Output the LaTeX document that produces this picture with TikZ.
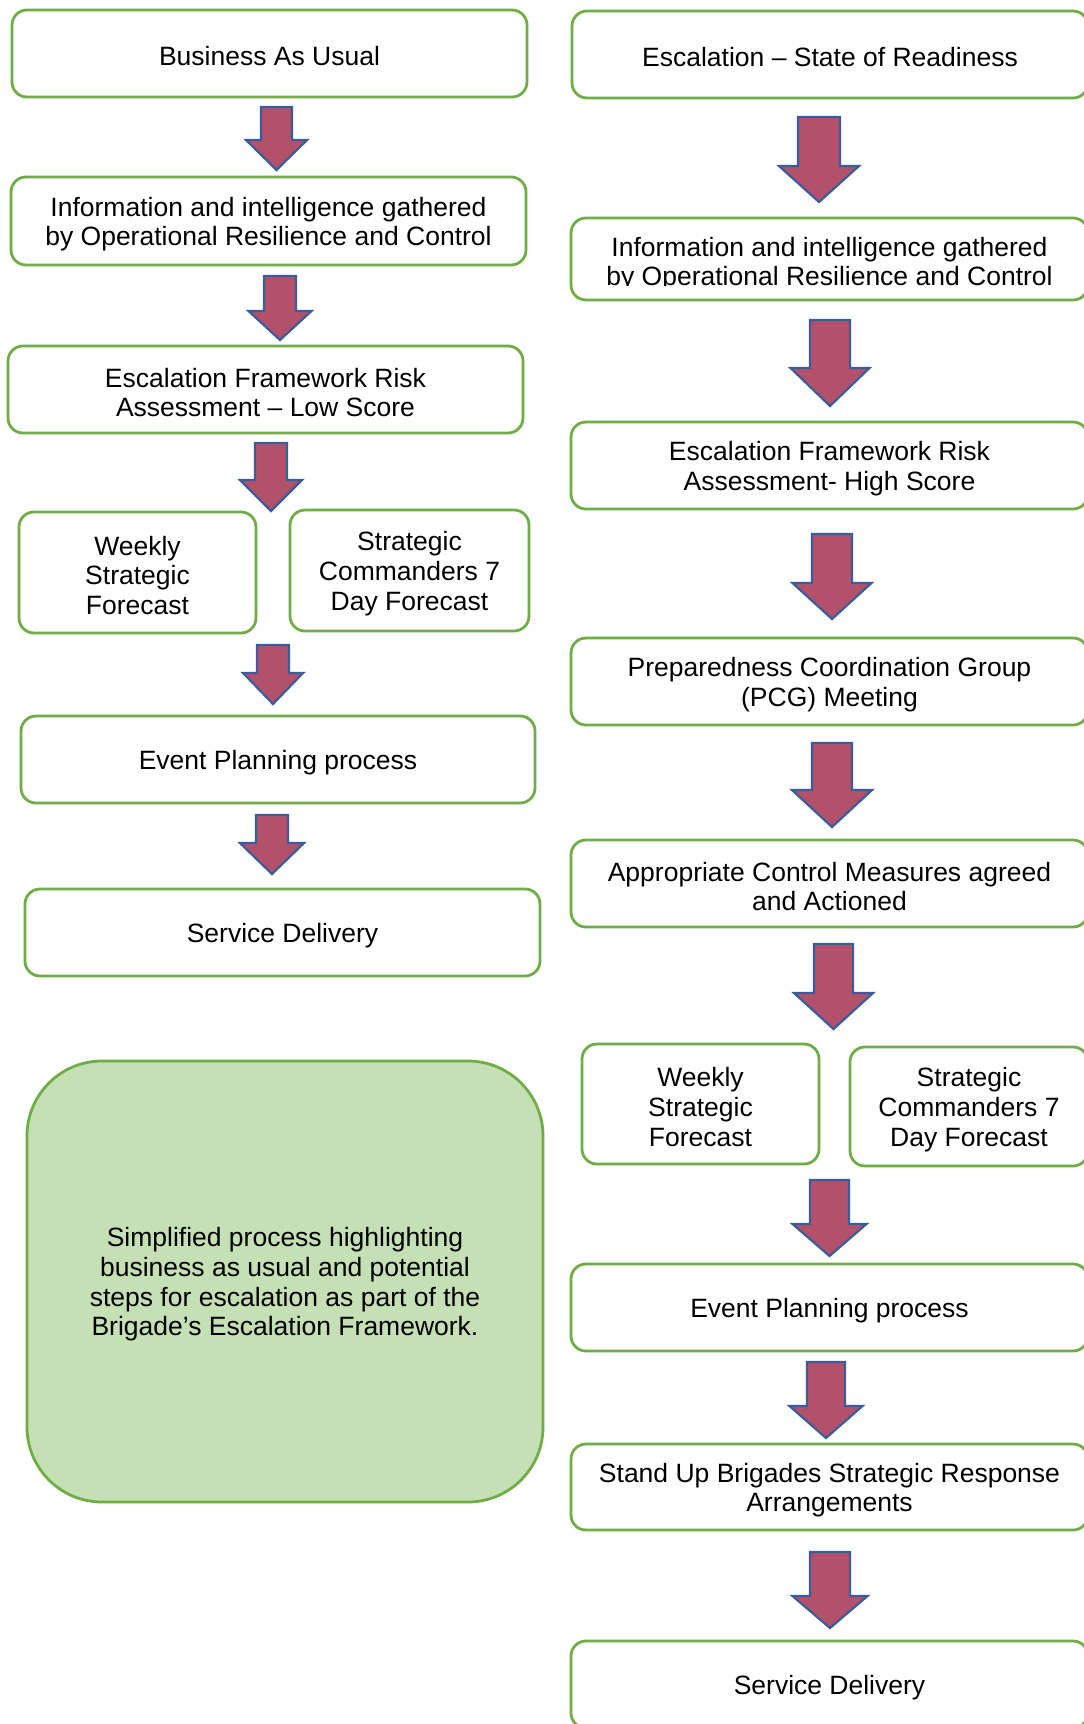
\documentclass[tikz,border=0pt]{standalone}
\usepackage{fontspec}
\setmainfont{Liberation Sans}
\definecolor{boxgreen}{HTML}{70AD47}
\definecolor{notefill}{HTML}{C5E0B4}
\definecolor{arrowfill}{HTML}{B3516A}
\definecolor{arrowedge}{HTML}{3B5C9A}
\newcommand{\blockarrow}[6]{% cx, top, shaft half, head y, head half, tip
  \draw[arrowshape] ({#1-#3},#2) -- ({#1+#3},#2) -- ({#1+#3},#4) -- ({#1+#5},#4)
    -- (#1,#6) -- ({#1-#5},#4) -- ({#1-#3},#4) -- cycle;}
% name, style, centre, width, height, text
\newcommand{\flowbox}[6]{%
  \node[#2, minimum width=#4, minimum height=#5] (#1) at (#3) {};
  \node[txt, align=center, yshift=-3pt] (#1-text) at (#1.center) {#6};}
\begin{document}
\begin{tikzpicture}[x=1pt,y=-1pt,
  box/.style={draw=boxgreen, line width=2.8pt, rounded corners=15pt, fill=white, inner sep=0pt},
  txt/.style={inner sep=0pt, font=\fontsize{26.5}{29.7}\selectfont},
  note/.style={box, fill=notefill, rounded corners=75pt},
  arrowshape/.style={fill=arrowfill, draw=arrowedge, line width=2.2pt, line join=miter}]
\useasboundingbox (0,0) rectangle (1084,1724);
\clip (0,0) rectangle (1084,1724);
\fill[white] (0,0) rectangle (1084,1724);

% ---------------- left column ----------------
\flowbox{bau}{box}{269.5,53.5}{515pt}{87pt}{Business As Usual}
\flowbox{info}{box}{268.5,221}{515pt}{88pt}{Information and intelligence gathered\\by Operational Resilience and Control}
\flowbox{esclow}{box}{265.5,389.5}{515pt}{87pt}{Escalation Framework Risk\\Assessment -- Low Score}
\flowbox{weekly}{box}{137.5,572.5}{237pt}{121pt}{Weekly\\Strategic\\Forecast}
\flowbox{scf}{box}{409.5,570.5}{239pt}{121pt}{Strategic\\Commanders 7\\Day Forecast}
\flowbox{event}{box}{278,759.5}{514pt}{87pt}{Event Planning process}
\flowbox{service}{box}{282.5,932.5}{515pt}{87pt}{Service Delivery}
\flowbox{notebox}{note}{285,1281.5}{516pt}{441pt}{Simplified process highlighting\\business as usual and potential\\steps for escalation as part of the\\Brigade’s Escalation Framework.}

\blockarrow{276.5}{107}{15.5}{140}{30.5}{170}
\blockarrow{280}{276}{16}{311}{31.5}{340}
\blockarrow{271}{443}{16}{480}{31}{511}
\blockarrow{273}{645}{16}{673}{30}{704}
\blockarrow{272}{815}{16}{843}{32}{874}

% ---------------- right column ----------------
\flowbox{esr}{box}{830,54.5}{516pt}{87pt}{Escalation -- State of Readiness}
\node[box, minimum width=517pt, minimum height=82pt] (infor) at (829.5,259) {};
\begin{scope}
  \clip (571,218) rectangle (1090,285.5);
  \node[txt, anchor=base] (inforA) at (829.5,256) {Information and intelligence gathered};
  \node[txt, anchor=base] (inforB) at (829.5,285) {by Operational Resilience and Control};
\end{scope}
\flowbox{eshigh}{box}{829.5,465.5}{517pt}{87pt}{Escalation Framework Risk\\Assessment- High Score}
\flowbox{pcg}{box}{829.5,681.5}{517pt}{87pt}{Preparedness Coordination Group\\(PCG) Meeting}
\flowbox{acm}{box}{829.5,883.5}{517pt}{87pt}{Appropriate Control Measures agreed\\and Actioned}
\flowbox{weeklyr}{box}{700.5,1104}{237pt}{120pt}{Weekly\\Strategic\\Forecast}
\flowbox{scfr}{box}{969,1106.5}{238pt}{119pt}{Strategic\\Commanders 7\\Day Forecast}
\flowbox{eventr}{box}{829.5,1307.5}{517pt}{87pt}{Event Planning process}
\flowbox{standup}{box}{829.5,1487}{517pt}{86pt}{Stand Up Brigades Strategic Response\\Arrangements}
\flowbox{servicer}{box}{829.5,1684.5}{517pt}{87pt}{Service Delivery}

\blockarrow{819}{117}{21}{166}{40}{202}
\blockarrow{830}{320}{20}{368}{39.5}{406}
\blockarrow{832}{534}{20}{583}{39.5}{619}
\blockarrow{832}{743}{20}{790}{40}{827}
\blockarrow{833.5}{944}{19.5}{993}{39.5}{1029}
\blockarrow{829.5}{1180}{19.5}{1224}{37}{1256}
\blockarrow{826}{1362}{19}{1406}{36.5}{1438}
\blockarrow{830}{1552}{20}{1596}{37.5}{1628}
\end{tikzpicture}
\end{document}
